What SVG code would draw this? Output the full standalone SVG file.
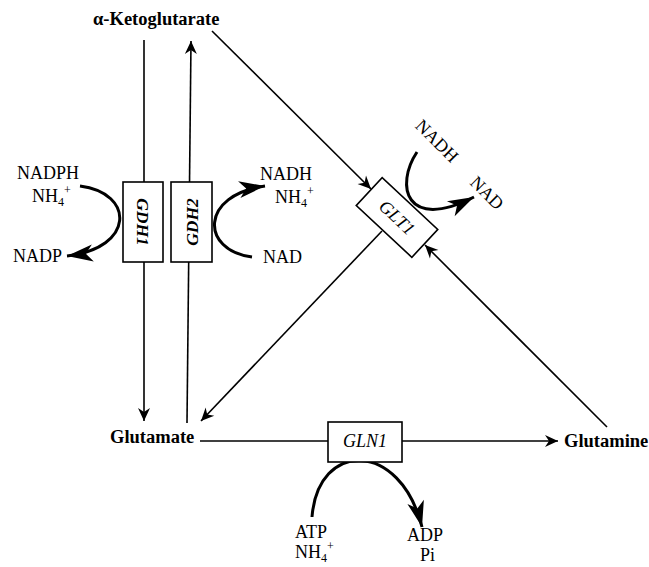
<svg xmlns="http://www.w3.org/2000/svg" width="649" height="567" viewBox="0 0 649 567">
<style>
text{font-family:"Liberation Serif","Times New Roman",serif;fill:#000}
.lab{font-size:18px}
.met{font-size:18.5px;font-weight:bold}
.enz{font-size:18px;font-style:italic}
.enzb{font-size:17.5px;font-style:italic;font-weight:bold}
.ln{fill:none;stroke:#000;stroke-width:1.6}
.cv{fill:none;stroke:#000;stroke-width:3}
.box{fill:#fff;stroke:#000;stroke-width:1.6}
.sub{font-size:12px}
</style>
<defs>
<marker id="ah" viewBox="-14 -7 15 14" markerWidth="15" markerHeight="14" refX="0" refY="0" orient="auto" markerUnits="userSpaceOnUse">
<path d="M0,0 L-13,-6 L-9,0 L-13,6 z" fill="#000"/>
</marker>
<marker id="big" viewBox="-28 -10 29 20" markerWidth="29" markerHeight="20" refX="0" refY="0" orient="auto" markerUnits="userSpaceOnUse">
<path d="M0,0 L-26,-8.5 L-19,0 L-26,8.5 z" fill="#000"/>
</marker>
</defs>
<g id="connectors">
<path class="ln" d="M144,40 L144,421" marker-end="url(#ah)"/>
<path class="ln" d="M187,423 L191,41" marker-end="url(#ah)"/>
<path class="ln" d="M212,31 L371,189" marker-end="url(#ah)"/>
<path class="ln" d="M382,231 L201,421" marker-end="url(#ah)"/>
<path class="ln" d="M607,427 L425,245" marker-end="url(#ah)"/>
<path class="ln" d="M200,441 L558,441" marker-end="url(#ah)"/>
<path class="cv" d="M80,186 C135,193 135,248 67,256" marker-end="url(#big)"/>
<path class="cv" d="M252,257 C200,250 200,195 265,186" marker-end="url(#big)"/>
<path class="cv" d="M417,152 C395,185 405,232 474,197" marker-end="url(#big)"/>
<path class="cv" d="M312,517 C318,440 400,440 422,527" stroke-width="4.5" marker-end="url(#big)"/>
</g>
<g id="akg"><text class="met" x="93" y="25">α-Ketoglutarate</text></g>
<g id="glutamate"><text class="met" x="110" y="443">Glutamate</text></g>
<g id="glutamine"><text class="met" x="564" y="447">Glutamine</text></g>
<g id="gdh1">
<rect class="box" x="123" y="182" width="40" height="80"/>
<text class="enzb" text-anchor="middle" transform="translate(143,222) rotate(90)" y="6">GDH1</text>
</g>
<g id="gdh2">
<rect class="box" x="171" y="182" width="41" height="80"/>
<text class="enzb" text-anchor="middle" transform="translate(191.5,222) rotate(-90)" y="6">GDH2</text>
</g>
<g id="glt1">
<g transform="translate(397,217.5) rotate(43)">
<rect class="box" x="-38" y="-19" width="76" height="38"/>
<text class="enz" text-anchor="middle" y="6">GLT1</text>
</g>
</g>
<g id="gln1">
<rect class="box" x="328" y="422" width="74" height="40"/>
<text class="enz" text-anchor="middle" x="365" y="447">GLN1</text>
</g>
<g id="gdh1-cofactors">
<text class="lab" x="17" y="179">NADPH</text>
<text class="lab" x="32" y="202">NH<tspan class="sub" dy="4">4</tspan><tspan class="sub" dy="-12">+</tspan></text>
<text class="lab" x="13" y="262">NADP</text>
</g>
<g id="gdh2-cofactors">
<text class="lab" x="260" y="180">NADH</text>
<text class="lab" x="275" y="203">NH<tspan class="sub" dy="4">4</tspan><tspan class="sub" dy="-12">+</tspan></text>
<text class="lab" x="263" y="263">NAD</text>
</g>
<g id="glt1-cofactors">
<text class="lab" text-anchor="middle" transform="translate(437,141) rotate(45)" y="6">NADH</text>
<text class="lab" text-anchor="middle" transform="translate(487,193) rotate(45)" y="6">NAD</text>
</g>
<g id="gln1-cofactors">
<text class="lab" x="295" y="538">ATP</text>
<text class="lab" x="295" y="558">NH<tspan class="sub" dy="4">4</tspan><tspan class="sub" dy="-12">+</tspan></text>
<text class="lab" x="407" y="541">ADP</text>
<text class="lab" x="420" y="561">Pi</text>
</g>
</svg>
